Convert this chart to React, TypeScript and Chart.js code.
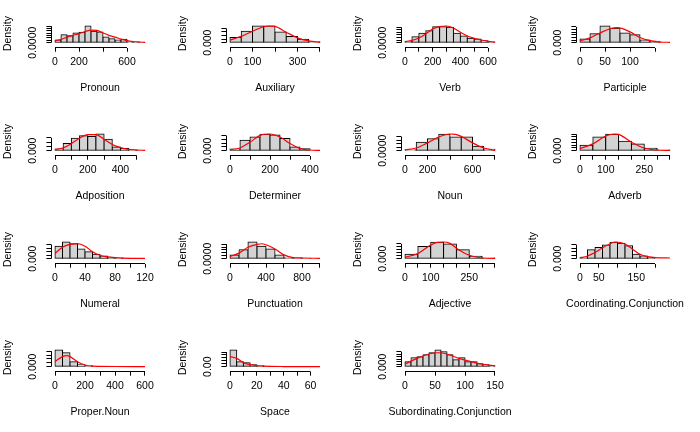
import React, { useEffect, useRef } from "react";
import { Chart, registerables } from "chart.js";

Chart.register(...registerables);

const FONT_FAMILY = '"Liberation Sans", Arial, Helvetica, sans-serif';
const FONT_SIZE = 10.5;

// ---------- data (densities) ----------
const pronounBreaks = [0, 50, 100, 150, 200, 250, 300, 350, 400, 450, 500, 550, 600, 650, 700, 750];
const pronounDensity = [0.00059, 0.00169, 0.00147, 0.00206, 0.00221, 0.00353, 0.00243, 0.00228, 0.00118, 0.00081, 0.00059, 0.00074, 0.00022, 0.00015, 0.00007];
const pronounCurveX = [0, 50, 100, 150, 200, 250, 300, 350, 400, 450, 500, 550, 600, 650, 700, 750];
const pronounCurveY = [0.00037, 0.0007, 0.00118, 0.00155, 0.00191, 0.00235, 0.00265, 0.0026, 0.00206, 0.00155, 0.00118, 0.00075, 0.00044, 0.00025, 0.00015, 0.00007];
const pronounXTicks = [0, 200, 400, 600];
const pronounXLabels = ["0", "200", "", "600"];
const pronounYTicks = [0, 0.0005, 0.001, 0.0015, 0.002, 0.0025, 0.003, 0.0035];

const auxiliaryBreaks = [0, 50, 100, 150, 200, 250, 300, 350, 400];
const auxiliaryDensity = [0.00146, 0.0032, 0.00466, 0.00466, 0.00301, 0.00175, 0.00097, 0.00029];
const auxiliaryCurveX = [0, 50, 100, 150, 175, 200, 250, 300, 350, 400];
const auxiliaryCurveY = [0.00078, 0.00175, 0.0032, 0.00446, 0.00466, 0.00456, 0.00291, 0.00136, 0.00049, 0.0001];
const auxiliaryXTicks = [0, 100, 200, 300, 400];
const auxiliaryXLabels = ["0", "100", "", "300", ""];
const auxiliaryYTicks = [0, 0.001, 0.002, 0.003, 0.004];

const verbBreaks = [0, 50, 100, 150, 200, 250, 300, 350, 400, 450, 500, 550, 600, 650];
const verbDensity = [0.00026, 0.00117, 0.00182, 0.00234, 0.00312, 0.00312, 0.00299, 0.00182, 0.0013, 0.00085, 0.00072, 0.00039, 0.00013];
const verbCurveX = [0, 50, 100, 150, 200, 250, 300, 350, 400, 450, 500, 550, 600, 650];
const verbCurveY = [0.0002, 0.00046, 0.00091, 0.00169, 0.00267, 0.00312, 0.00325, 0.00286, 0.00202, 0.0013, 0.00085, 0.00052, 0.00026, 0.00013];
const verbXTicks = [0, 100, 200, 300, 400, 500, 600];
const verbXLabels = ["0", "", "200", "", "400", "", "600"];
const verbYTicks = [0, 0.0005, 0.001, 0.0015, 0.002, 0.0025, 0.003];

const participleBreaks = [0, 20, 40, 60, 80, 100, 120, 140, 160];
const participleDensity = [0.0029, 0.0069, 0.0127, 0.0109, 0.0074, 0.0061, 0.0021, 0.0011];
const participleCurveX = [0, 20, 40, 60, 75, 100, 120, 140, 160, 180];
const participleCurveY = [0.0013, 0.0037, 0.0074, 0.0106, 0.0114, 0.0082, 0.004, 0.0016, 0.0005, 0.0003];
const participleXTicks = [0, 50, 100, 150];
const participleXLabels = ["0", "50", "100", ""];
const participleYTicks = [0, 0.002, 0.004, 0.006, 0.008, 0.01, 0.012];

const adpositionBreaks = [0, 50, 100, 150, 200, 250, 300, 350, 400, 450, 500, 550];
const adpositionDensity = [0.0004, 0.0017, 0.00292, 0.00348, 0.00332, 0.00389, 0.00267, 0.00089, 0.00049, 0.00016, 0.00008];
const adpositionCurveX = [0, 50, 100, 150, 200, 250, 300, 350, 400, 450, 500, 550];
const adpositionCurveY = [0.00024, 0.00065, 0.00162, 0.00292, 0.00373, 0.00373, 0.00267, 0.00146, 0.00073, 0.00032, 0.00016, 0.00008];
const adpositionXTicks = [0, 100, 200, 300, 400, 500];
const adpositionXLabels = ["0", "", "200", "", "400", ""];
const adpositionYTicks = [0, 0.001, 0.002, 0.003];

const determinerBreaks = [0, 50, 100, 150, 200, 250, 300, 350, 400];
const determinerDensity = [0.00045, 0.00278, 0.00359, 0.00431, 0.00413, 0.00323, 0.00099, 0.00054];
const determinerCurveX = [0, 50, 100, 150, 200, 250, 300, 350, 400, 450];
const determinerCurveY = [0.00027, 0.00072, 0.00224, 0.00404, 0.0044, 0.00359, 0.00188, 0.00054, 0.00018, 0.00009];
const determinerXTicks = [0, 100, 200, 300, 400];
const determinerXLabels = ["0", "", "200", "", "400"];
const determinerYTicks = [0, 0.001, 0.002, 0.003, 0.004];

const nounBreaks = [0, 100, 200, 300, 400, 500, 600, 700, 800];
const nounDensity = [0.00014, 0.0012, 0.00168, 0.0023, 0.00192, 0.00192, 0.00062, 0.00019];
const nounCurveX = [0, 100, 200, 300, 400, 450, 500, 600, 700, 800];
const nounCurveY = [0.0001, 0.00038, 0.0011, 0.00192, 0.00235, 0.0023, 0.00202, 0.0011, 0.00038, 0.00005];
const nounXTicks = [0, 200, 400, 600, 800];
const nounXLabels = ["0", "200", "", "600", ""];
const nounYTicks = [0, 0.0005, 0.001, 0.0015, 0.002];

const adverbBreaks = [0, 50, 100, 150, 200, 250, 300, 350];
const adverbDensity = [0.00198, 0.00496, 0.00595, 0.00347, 0.00248, 0.00087, 0.00025];
const adverbCurveX = [0, 50, 100, 135, 150, 200, 250, 300, 350];
const adverbCurveY = [0.00074, 0.00248, 0.00533, 0.00608, 0.00595, 0.0031, 0.00099, 0.00025, 0.00012];
const adverbXTicks = [0, 50, 100, 150, 200, 250, 300, 350];
const adverbXLabels = ["0", "", "100", "", "", "250", "", ""];
const adverbYTicks = [0, 0.001, 0.002, 0.003, 0.004, 0.005, 0.006];

const numeralBreaks = [0, 10, 20, 30, 40, 50, 60, 70, 80, 90, 100];
const numeralDensity = [0.0176, 0.0235, 0.0211, 0.0137, 0.0098, 0.0064, 0.0039, 0.002, 0.001, 0.0005];
const numeralCurveX = [0, 10, 20, 30, 40, 50, 60, 70, 80, 100, 120];
const numeralCurveY = [0.0074, 0.0162, 0.0201, 0.0211, 0.0176, 0.0098, 0.0049, 0.0025, 0.0015, 0.0005, 0.0004];
const numeralXTicks = [0, 20, 40, 60, 80, 100, 120];
const numeralXLabels = ["0", "", "40", "", "80", "", "120"];
const numeralYTicks = [0, 0.005, 0.01, 0.015, 0.02];

const punctuationBreaks = [0, 100, 200, 300, 400, 500, 600, 700, 800, 900];
const punctuationDensity = [0.00065, 0.00155, 0.00286, 0.00214, 0.00167, 0.00065, 0.00024, 0.00018, 0.00006];
const punctuationCurveX = [0, 100, 200, 300, 350, 400, 500, 600, 700, 800, 1000];
const punctuationCurveY = [0.00036, 0.00095, 0.00196, 0.00244, 0.00256, 0.00238, 0.00167, 0.00065, 0.00018, 0.00012, 0.00006];
const punctuationXTicks = [0, 200, 400, 600, 800, 1000];
const punctuationXLabels = ["0", "", "400", "", "800", ""];
const punctuationYTicks = [0, 0.0005, 0.001, 0.0015, 0.002, 0.0025];

const adjectiveBreaks = [0, 50, 100, 150, 200, 250, 300, 350];
const adjectiveDensity = [0.00148, 0.0041, 0.00547, 0.0049, 0.00296, 0.0008, 0.00023];
const adjectiveCurveX = [0, 50, 100, 125, 150, 175, 200, 250, 300, 350];
const adjectiveCurveY = [0.00046, 0.00171, 0.00456, 0.00547, 0.00559, 0.00513, 0.00353, 0.00114, 0.00023, 0.00011];
const adjectiveXTicks = [0, 50, 100, 150, 200, 250, 300, 350];
const adjectiveXLabels = ["0", "", "100", "", "", "250", "", ""];
const adjectiveYTicks = [0, 0.001, 0.002, 0.003, 0.004, 0.005];

const coordBreaks = [0, 20, 40, 60, 80, 100, 120, 140, 160, 180, 200];
const coordDensity = [0.00077, 0.00502, 0.00637, 0.00772, 0.00926, 0.00869, 0.00733, 0.00251, 0.00154, 0.00077];
const coordCurveX = [0, 20, 40, 60, 80, 95, 120, 140, 160, 180, 200, 240];
const coordCurveY = [0.00039, 0.00154, 0.00347, 0.00618, 0.00849, 0.00946, 0.0083, 0.0054, 0.00251, 0.00116, 0.00058, 0.00039];
const coordXTicks = [0, 50, 100, 150, 200];
const coordXLabels = ["0", "50", "", "150", ""];
const coordYTicks = [0, 0.002, 0.004, 0.006, 0.008];

const properBreaks = [0, 50, 100, 150, 200, 250];
const properDensity = [0.0086, 0.0072, 0.0026, 0.001, 0.0005];
const properCurveX = [0, 50, 80, 100, 150, 200, 250, 300, 400, 600];
const properCurveY = [0.0026, 0.0052, 0.0057, 0.0052, 0.0026, 0.0009, 0.0003, 0.0002, 0.0001, 0.00005];
const properXTicks = [0, 100, 200, 300, 400, 500, 600];
const properXLabels = ["0", "", "200", "", "400", "", "600"];
const properYTicks = [0, 0.002, 0.004, 0.006, 0.008];

const spaceBreaks = [0, 5, 10, 15, 20, 25, 30];
const spaceDensity = [0.114, 0.034, 0.027, 0.014, 0.007, 0.003];
const spaceCurveX = [0, 5, 10, 15, 20, 30, 40, 67];
const spaceCurveY = [0.069, 0.057, 0.027, 0.014, 0.007, 0.0023, 0.0011, 0.0005];
const spaceXTicks = [0, 10, 20, 30, 40, 50, 60];
const spaceXLabels = ["0", "", "20", "", "40", "", "60"];
const spaceYTicks = [0, 0.02, 0.04, 0.06, 0.08, 0.1];

const subBreaks = [0, 10, 20, 30, 40, 50, 60, 70, 80, 90, 100, 110, 120, 130, 140, 150];
const subDensity = [0.004, 0.0072, 0.008, 0.0095, 0.0111, 0.0133, 0.0119, 0.0095, 0.0056, 0.0072, 0.004, 0.004, 0.0024, 0.0016, 0.0008];
const subCurveX = [0, 20, 40, 55, 70, 90, 110, 130, 150];
const subCurveY = [0.0021, 0.0066, 0.0101, 0.0111, 0.0101, 0.0066, 0.004, 0.0019, 0.0008];
const subXTicks = [0, 50, 100, 150];
const subXLabels = ["0", "50", "100", "150"];
const subYTicks = [0, 0.002, 0.004, 0.006, 0.008, 0.01, 0.012];

type Panel = {
  name: string;
  breaks: number[];
  density: number[];
  curveX: number[];
  curveY: number[];
  xRange: number[];
  xTicks: number[];
  xLabels: string[];
  yTicks: number[];
  yLabel: string;
};

const PANELS: Panel[] = [
  { name: "Pronoun", breaks: pronounBreaks, density: pronounDensity, curveX: pronounCurveX, curveY: pronounCurveY, xRange: [0, 750], xTicks: pronounXTicks, xLabels: pronounXLabels, yTicks: pronounYTicks, yLabel: "0.0000" },
  { name: "Auxiliary", breaks: auxiliaryBreaks, density: auxiliaryDensity, curveX: auxiliaryCurveX, curveY: auxiliaryCurveY, xRange: [0, 400], xTicks: auxiliaryXTicks, xLabels: auxiliaryXLabels, yTicks: auxiliaryYTicks, yLabel: "0.000" },
  { name: "Verb", breaks: verbBreaks, density: verbDensity, curveX: verbCurveX, curveY: verbCurveY, xRange: [0, 650], xTicks: verbXTicks, xLabels: verbXLabels, yTicks: verbYTicks, yLabel: "0.0000" },
  { name: "Participle", breaks: participleBreaks, density: participleDensity, curveX: participleCurveX, curveY: participleCurveY, xRange: [0, 180], xTicks: participleXTicks, xLabels: participleXLabels, yTicks: participleYTicks, yLabel: "0.000" },
  { name: "Adposition", breaks: adpositionBreaks, density: adpositionDensity, curveX: adpositionCurveX, curveY: adpositionCurveY, xRange: [0, 550], xTicks: adpositionXTicks, xLabels: adpositionXLabels, yTicks: adpositionYTicks, yLabel: "0.000" },
  { name: "Determiner", breaks: determinerBreaks, density: determinerDensity, curveX: determinerCurveX, curveY: determinerCurveY, xRange: [0, 450], xTicks: determinerXTicks, xLabels: determinerXLabels, yTicks: determinerYTicks, yLabel: "0.000" },
  { name: "Noun", breaks: nounBreaks, density: nounDensity, curveX: nounCurveX, curveY: nounCurveY, xRange: [0, 800], xTicks: nounXTicks, xLabels: nounXLabels, yTicks: nounYTicks, yLabel: "0.0000" },
  { name: "Adverb", breaks: adverbBreaks, density: adverbDensity, curveX: adverbCurveX, curveY: adverbCurveY, xRange: [0, 350], xTicks: adverbXTicks, xLabels: adverbXLabels, yTicks: adverbYTicks, yLabel: "0.000" },
  { name: "Numeral", breaks: numeralBreaks, density: numeralDensity, curveX: numeralCurveX, curveY: numeralCurveY, xRange: [0, 120], xTicks: numeralXTicks, xLabels: numeralXLabels, yTicks: numeralYTicks, yLabel: "0.000" },
  { name: "Punctuation", breaks: punctuationBreaks, density: punctuationDensity, curveX: punctuationCurveX, curveY: punctuationCurveY, xRange: [0, 1000], xTicks: punctuationXTicks, xLabels: punctuationXLabels, yTicks: punctuationYTicks, yLabel: "0.0000" },
  { name: "Adjective", breaks: adjectiveBreaks, density: adjectiveDensity, curveX: adjectiveCurveX, curveY: adjectiveCurveY, xRange: [0, 350], xTicks: adjectiveXTicks, xLabels: adjectiveXLabels, yTicks: adjectiveYTicks, yLabel: "0.000" },
  { name: "Coordinating.Conjunction", breaks: coordBreaks, density: coordDensity, curveX: coordCurveX, curveY: coordCurveY, xRange: [0, 240], xTicks: coordXTicks, xLabels: coordXLabels, yTicks: coordYTicks, yLabel: "0.000" },
  { name: "Proper.Noun", breaks: properBreaks, density: properDensity, curveX: properCurveX, curveY: properCurveY, xRange: [0, 600], xTicks: properXTicks, xLabels: properXLabels, yTicks: properYTicks, yLabel: "0.000" },
  { name: "Space", breaks: spaceBreaks, density: spaceDensity, curveX: spaceCurveX, curveY: spaceCurveY, xRange: [0, 67], xTicks: spaceXTicks, xLabels: spaceXLabels, yTicks: spaceYTicks, yLabel: "0.00" },
  { name: "Subordinating.Conjunction", breaks: subBreaks, density: subDensity, curveX: subCurveX, curveY: subCurveY, xRange: [0, 150], xTicks: subXTicks, xLabels: subXLabels, yTicks: subYTicks, yLabel: "0.000" },
];

// ---------- layout (pixels within one 175x108 panel) ----------
const PANEL_W = 175;
const PANEL_H = 108;
const PLOT_LEFT = 51.4;
const PLOT_RIGHT = 148.6;
const PLOT_TOP = 19.5;
const PLOT_BOTTOM = 47.7;
const ZERO_Y = 42.7;
const PEAK_Y = 26;
const X_AXIS_H = 46.6;
const X_TITLE_Y = 88;

function HistPanel({ p, left, top }: { p: Panel; left: number; top: number }) {
  const ref = useRef<HTMLCanvasElement | null>(null);

  useEffect(() => {
    const canvas = ref.current;
    if (!canvas) return;
    const font = { family: FONT_FAMILY, size: FONT_SIZE };

    const bars = p.density.map((d, i) => ({ x: (p.breaks[i] + p.breaks[i + 1]) / 2, y: d }));
    const curve = p.curveX.map((x, i) => ({ x, y: p.curveY[i] }));

    const M = Math.max(...p.density, ...p.curveY);
    const k = M / (ZERO_Y - PEAK_Y);
    const yMin = -(PLOT_BOTTOM - ZERO_Y) * k;
    const yMax = M + (PEAK_Y - PLOT_TOP) * k;
    const r = p.xRange[1] - p.xRange[0];
    const xMin = p.xRange[0] - 0.04 * r;
    const xMax = p.xRange[1] + 0.04 * r;

    const axesPlugin = {
      id: "rAxes",
      afterDraw(chart: any) {
        const { ctx, chartArea } = chart;
        const xs = chart.scales.x;
        const ys = chart.scales.y;
        ctx.save();
        ctx.strokeStyle = "#000";
        ctx.lineWidth = 1;
        const yb = Math.floor(chartArea.bottom) + 0.5;
        ctx.beginPath();
        ctx.moveTo(xs.getPixelForValue(p.xTicks[0]), yb);
        ctx.lineTo(xs.getPixelForValue(p.xTicks[p.xTicks.length - 1]), yb);
        ctx.stroke();
        const xl = Math.floor(chartArea.left) + 0.5;
        ctx.beginPath();
        ctx.moveTo(xl, ys.getPixelForValue(p.yTicks[0]));
        ctx.lineTo(xl, ys.getPixelForValue(p.yTicks[p.yTicks.length - 1]));
        ctx.stroke();
        ctx.fillStyle = "#000";
        ctx.font = `${FONT_SIZE}px ${FONT_FAMILY}`;
        ctx.textAlign = "center";
        ctx.textBaseline = "middle";
        // x-axis title (drawn here so long names are not squeezed)
        ctx.fillText(p.name, (chartArea.left + chartArea.right) / 2, X_TITLE_Y);
        // y zero label, rotated like R's las = 0
        ctx.translate(chartArea.left - 18.4, ys.getPixelForValue(0));
        ctx.rotate(-Math.PI / 2);
        ctx.fillText(p.yLabel, 0, 0);
        ctx.restore();
      },
    };

    const chart = new Chart(canvas, {
      type: "bar",
      data: {
        datasets: [
          {
            type: "line",
            data: curve,
            borderColor: "#ff0000",
            borderWidth: 1.2,
            pointRadius: 0,
            fill: false,
            cubicInterpolationMode: "monotone",
            order: 0,
          } as any,
          {
            type: "bar",
            data: bars,
            backgroundColor: "#d3d3d3",
            borderColor: "#000000",
            borderWidth: 1,
            borderSkipped: false,
            barPercentage: 1,
            categoryPercentage: 1,
            inflateAmount: 0.5,
            order: 1,
          } as any,
        ],
      },
      options: {
        responsive: false,
        animation: false,
        events: [],
        layout: {
          padding: {
            left: 0,
            right: PANEL_W - PLOT_RIGHT,
            top: PLOT_TOP,
            bottom: PANEL_H - PLOT_BOTTOM - X_AXIS_H,
          },
        },
        plugins: {
          legend: { display: false },
          tooltip: { enabled: false },
        },
        scales: {
          x: {
            type: "linear",
            min: xMin,
            max: xMax,
            offset: false,
            border: { display: false },
            grid: {
              display: true,
              offset: false,
              drawOnChartArea: false,
              drawTicks: true,
              tickLength: 4,
              color: "#000",
              lineWidth: 1,
            },
            afterBuildTicks: (s: any) => {
              s.ticks = p.xTicks.map((v) => ({ value: v }));
            },
            afterFit: (s: any) => {
              s.height = X_AXIS_H;
            },
            ticks: {
              autoSkip: false,
              maxRotation: 0,
              minRotation: 0,
              padding: 4,
              color: "#000",
              font,
              callback: (_v: any, i: number) => p.xLabels[i],
            },
            title: { display: false, text: p.name },
          },
          y: {
            type: "linear",
            min: yMin,
            max: yMax,
            border: { display: false },
            grid: {
              display: true,
              drawOnChartArea: false,
              drawTicks: true,
              tickLength: 5,
              color: "#000",
              lineWidth: 1,
            },
            afterBuildTicks: (s: any) => {
              s.ticks = p.yTicks.map((v) => ({ value: v }));
            },
            afterFit: (s: any) => {
              s.width = PLOT_LEFT;
            },
            ticks: { autoSkip: false, padding: 0, callback: () => "" },
            title: { display: true, text: "Density", color: "#000", font, padding: { top: 1.5, bottom: 0 } },
          },
        },
      } as any,
      plugins: [axesPlugin],
    });

    return () => chart.destroy();
  }, [p]);

  return (
    <canvas
      ref={ref}
      width={PANEL_W}
      height={PANEL_H}
      style={{ position: "absolute", left, top, width: PANEL_W, height: PANEL_H }}
    />
  );
}

export default function App() {
  return (
    <div
      style={{
        position: "fixed",
        left: 0,
        top: 0,
        width: 700,
        height: 432,
        background: "#ffffff",
        overflow: "visible",
      }}
    >
      {PANELS.map((p, i) => (
        <HistPanel key={p.name} p={p} left={(i % 4) * PANEL_W} top={Math.floor(i / 4) * PANEL_H} />
      ))}
    </div>
  );
}
